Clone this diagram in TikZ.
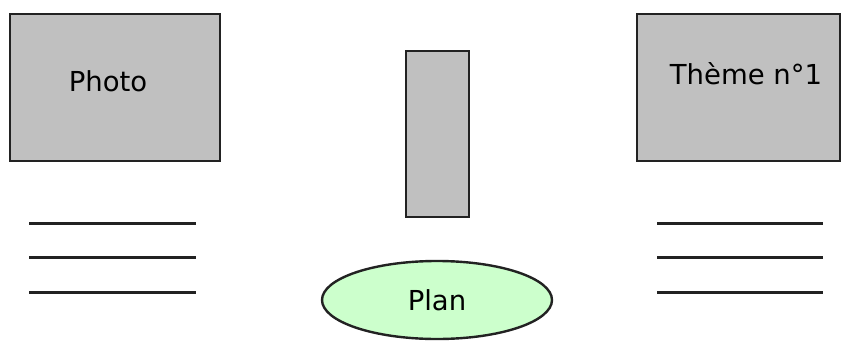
\documentclass[tikz,border=0pt]{standalone}
\usepackage{fontspec}
\setmainfont{DejaVu Sans}
\usetikzlibrary{shapes.geometric}
\definecolor{boxgray}{HTML}{C0C0C0}
\definecolor{plangreen}{HTML}{CCFFCC}
\definecolor{edge}{HTML}{222222}
\begin{document}
\begin{tikzpicture}[x=1pt,y=-1pt,
  graybox/.style={draw=edge,line width=2.4pt,fill=boxgray},
  txtline/.style={draw=edge,line width=3pt},
  lbl/.style={font=\fontsize{27.5}{32}\selectfont,text=black}]
\useasboundingbox (0,0) rectangle (842,342);
\path[graybox] (10,14) rectangle (220,161);
\node[lbl] (photo) at (108,81) {Photo};
\path[graybox] (637,14) rectangle (840,161);
\node[lbl] (theme) at (746,74) {Thème n°1};
\path[graybox] (406,51) rectangle (469,217);
\node[ellipse,draw=edge,line width=2.4pt,fill=plangreen,minimum width=230pt,minimum height=78pt,inner sep=0pt] (plan) at (437,300) {};
\node[lbl] at (plan.center) {Plan};
\foreach \yy/\nm in {223/a,257/b,292/c}{
  \coordinate (l\nm1) at (29,\yy); \coordinate (l\nm2) at (196,\yy);
  \draw[txtline] (l\nm1) -- (l\nm2);
  \coordinate (r\nm1) at (657,\yy); \coordinate (r\nm2) at (823,\yy);
  \draw[txtline] (r\nm1) -- (r\nm2);
}
\end{tikzpicture}
\end{document}
